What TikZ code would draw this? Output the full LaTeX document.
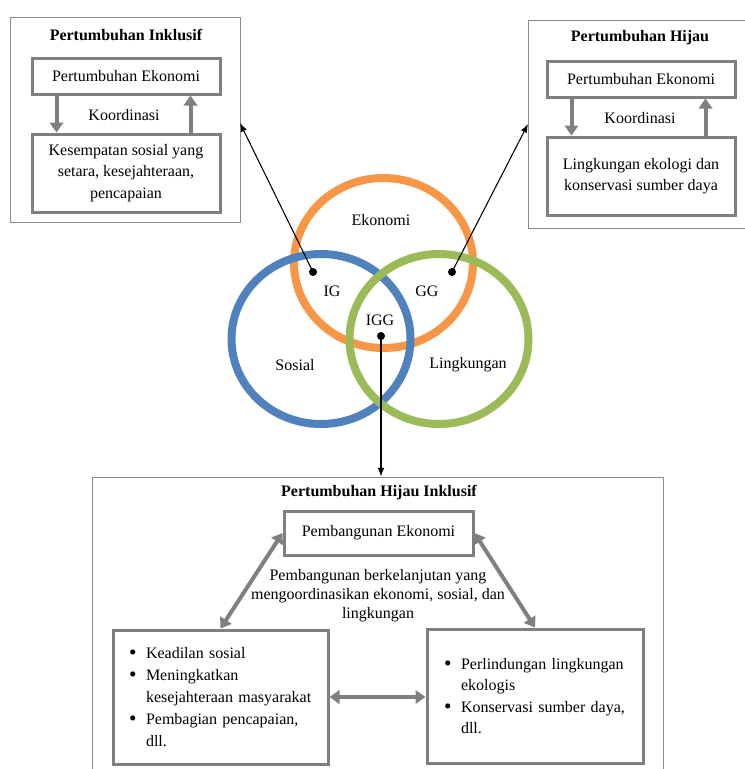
\documentclass[tikz,border=0pt]{standalone}
\usepackage{fontspec}
\setmainfont{Liberation Serif}
\usetikzlibrary{arrows.meta,shapes.geometric}
\definecolor{boxgray}{HTML}{7F7F7F}
\definecolor{framegray}{HTML}{8C8C8C}
\definecolor{ekoorange}{HTML}{F79646}
\definecolor{sosblue}{HTML}{4F81BD}
\definecolor{linggreen}{HTML}{9BBB59}
\newcommand\vbul{\leavevmode\llap{\raisebox{-0.8pt}{\fontsize{16}{16}\selectfont\textbullet}\hspace{7pt}}}
\begin{document}
\begin{tikzpicture}[x=0.75pt,y=-0.75pt,
  font=\fontsize{12}{16}\selectfont,
  frame/.style={draw=framegray, line width=0.75pt, inner sep=0pt},
  ibox/.style={draw=boxgray, line width=2.25pt, inner sep=0pt, align=center},
  ttl/.style={font=\fontsize{12}{16}\selectfont\bfseries, inner sep=0pt},
  garrow/.style={draw=boxgray, line width=3pt, -{Triangle[width=10pt,length=7.5pt]}},
  gdarrow/.style={draw=boxgray, line width=3pt, {Triangle[width=10pt,length=7.5pt]}-{Triangle[width=10pt,length=7.5pt]}},
  barrow/.style={draw=black, line width=0.8pt, -{Latex[length=6.5pt,width=5pt]}},
  vdot/.style={circle, fill=black, minimum size=6pt, inner sep=0pt},
  venn/.style={ellipse, draw, line width=6pt, minimum width=134.25pt, minimum height=127.5pt, inner sep=0pt},
  lbl/.style={inner sep=0pt}
]
\useasboundingbox (0,0) rectangle (744,769);

% ---------- top left: Pertumbuhan Inklusif ----------
\node[frame, minimum width=172.5pt, minimum height=153.75pt] (lo) at (125,119.5) {};
\node[ttl] (lt) at (126,35) {Pertumbuhan Inklusif};
\node[ibox, minimum width=141pt, minimum height=27pt] (la) at (126,76) {Pertumbuhan Ekonomi};
\node[ibox, minimum width=141pt, minimum height=58.5pt] (lb) at (126,173) {Kesempatan sosial yang\\ setara, kesejahteraan,\\ pencapaian};
\node[lbl] (lk) at (124,115) {Koordinasi};
\draw[garrow] ([xshift=19.5pt]la.south west) -- ([xshift=19.5pt]lb.north west);
\draw[garrow] ([xshift=-23.25pt]lb.north east) -- ([xshift=-23.25pt]la.south east);

% ---------- top right: Pertumbuhan Hijau ----------
\node[frame, minimum width=177.75pt, minimum height=156pt] (ro) at (646.5,124) {};
\node[ttl] (rt) at (640,38) {Pertumbuhan Hijau};
\node[ibox, minimum width=141pt, minimum height=27pt] (ra) at (641,79) {Pertumbuhan Ekonomi};
\node[ibox, minimum width=141pt, minimum height=58.5pt] (rb) at (641,176) {Lingkungan ekologi dan\\ konservasi sumber daya};
\node[lbl] (rk) at (640,118) {Koordinasi};
\draw[garrow] ([xshift=19.5pt]ra.south west) -- ([xshift=19.5pt]rb.north west);
\draw[garrow] ([xshift=-23.25pt]rb.north east) -- ([xshift=-23.25pt]ra.south east);

% ---------- Venn ----------
\node[venn, draw=ekoorange] (ce) at (383.5,263) {};
\node[venn, draw=sosblue] (cs) at (321,339) {};
\node[venn, draw=linggreen] (cl) at (439,339) {};
\node[lbl] (te) at (381,220) {Ekonomi};
\node[lbl] (tig) at (332,291) {IG};
\node[lbl] (tgg) at (427,291) {GG};
\node[lbl] (tigg) at (380,320) {IGG};
\node[lbl] (ts) at (295,365) {Sosial};
\node[lbl] (tl) at (468,365) {Lingkungan};
\node[vdot] (dig) at (313,272) {};
\node[vdot] (dgg) at (452,272) {};
\node[vdot] (digg) at (381,336) {};
\coordinate (lend) at (240,123);
\coordinate (rend) at (528,124);

% ---------- bottom: Pertumbuhan Hijau Inklusif ----------
\node[frame, minimum width=428.25pt, minimum height=242.25pt] (bo) at (377.5,638.5) {};
\node[ttl] (bt) at (379,493) {Pertumbuhan Hijau Inklusif};
\node[ibox, minimum width=141.75pt, minimum height=33pt] (pe) at (378.5,533) {Pembangunan Ekonomi};
\node[lbl, align=center, font=\fontsize{12}{14.25}\selectfont] (mid) at (378,596) {Pembangunan berkelanjutan yang\\ mengoordinasikan ekonomi, sosial, dan\\ lingkungan};
\node[ibox, minimum width=161.25pt, minimum height=100.5pt, text width=111.75pt, align=left,
      font=\fontsize{12}{16.5}\selectfont] (bl) at (220.5,697)
  {\vbul\mbox{Keadilan sosial}\\ \vbul Meningkatkan\\ \mbox{kesejahteraan masyarakat}\\ \vbul\mbox{Pembagian pencapaian,}\\ dll.};
\node[ibox, minimum width=162pt, minimum height=100.5pt, text width=111pt, align=left,
      font=\fontsize{12}{16}\selectfont] (br) at (535,696)
  {\vbul\mbox{Perlindungan lingkungan}\\ ekologis\\ \vbul\mbox{Konservasi sumber daya,}\\ dll.};
\draw[gdarrow] (bl.north) -- (pe.west);
\draw[gdarrow] (pe.east) -- (br.north);
\draw[gdarrow] (bl.east) -- (bl.east -| br.west);

% ---------- black connectors ----------
\draw[barrow] (dig.center) -- (lend);
\draw[barrow] (dgg.center) -- (rend);
\draw[barrow] (digg.center) -- (digg |- bo.north);
\end{tikzpicture}
\end{document}
